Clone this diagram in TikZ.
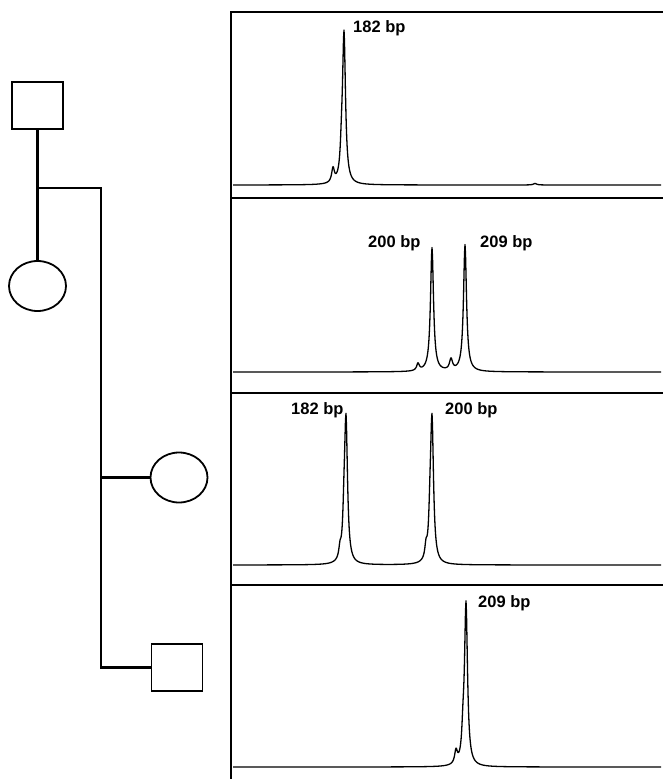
\documentclass[tikz,border=0pt]{standalone}
\usepackage{fontspec}
\setmainfont{Liberation Sans}
\usepackage{tikz}
\usetikzlibrary{shapes}
\usetikzlibrary{arrows.meta}

\tikzset{
  male/.style={draw,line width=1.8pt,rectangle,minimum width=51pt,minimum height=47pt,inner sep=0},
  female/.style={draw,line width=1.8pt,ellipse,minimum width=57pt,minimum height=50pt,inner sep=0},
  line/.style={line width=2.2pt},
  size/.style={font=\fontsize{16.5}{18}\selectfont\bfseries,inner sep=0,anchor=base west},
  trace/.style={line width=1.3pt,line join=round},
  declare function={pk(\x,\c,\h,\w)=\h/(1+(min(abs(\x-\c)/\w,100))^2);}
}

\begin{document}
\begin{tikzpicture}[x=1pt,y=-1pt]
      \useasboundingbox (0,0) rectangle (663,779);
      %%% pedigree
      \node[male] (I1) at (37.5,105.5) {};
      \node[female] (II1) at (37.5,286) {};
      \node[female] (II2) at (179,477.5) {};
      \node[male] (II3) at (177,667.5) {};
      \coordinate (sib) at (37.5,188);
      \coordinate (bar) at (101,188);
      \draw[line] (I1) -- (II1);
      \draw[line] (sib) -- (bar) |- (II3);
      \draw[line] (II2) -- (II2 -| bar);
      %%% the frame
      \draw[line] (231,779) -- (231,12) -- (663,12);
      \foreach \y in {198,393,585}
        \draw[line] (231,\y) -- (663,\y);
      %%% panel 1
      \draw[trace] plot[domain=233:661,samples=857]
        (\x,{185-pk(\x,344,150,1.8)-pk(\x,341.5,20,1.4)-pk(\x,333,14,1.6)-pk(\x,535,1.5,2)});
      \node[size] (p1a) at (353,32) {182 bp};
      %%% panel 2
      \draw[trace] plot[domain=233:661,samples=857]
        (\x,{372-pk(\x,432,124,1.8)-pk(\x,465,127,1.8)-pk(\x,418,7,1.6)-pk(\x,451,11,1.8)});
      \node[size] (p2a) at (368,247) {200 bp};
      \node[size] (p2b) at (480,247) {209 bp};
      %%% panel 3
      \draw[trace] plot[domain=233:661,samples=857]
        (\x,{565-pk(\x,346,142,1.8)-pk(\x,344,28,1.4)-pk(\x,340,10,1.3)
             -pk(\x,432,142,1.8)-pk(\x,430,28,1.4)-pk(\x,426,12,1.3)});
      \node[size] (p3a) at (291,414) {182 bp};
      \node[size] (p3b) at (445,414) {200 bp};
      %%% panel 4
      \draw[trace] plot[domain=233:661,samples=857]
        (\x,{767-pk(\x,466,162,1.8)-pk(\x,463,22,1.4)-pk(\x,456,13,1.6)});
      \node[size] (p4a) at (478,607) {209 bp};
\end{tikzpicture}
\end{document}
